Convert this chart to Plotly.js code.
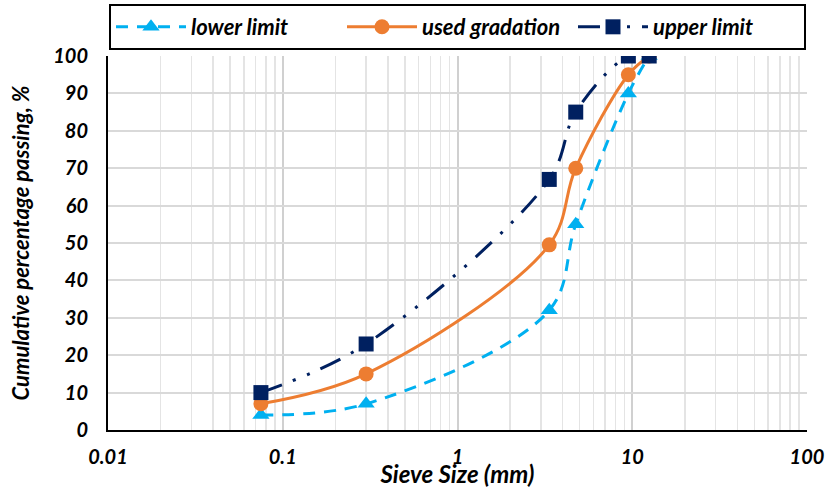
<!DOCTYPE html>
<html>
<head>
<meta charset="utf-8">
<script src="https://cdn.plot.ly/plotly-3.0.1.min.js"></script>
<style>html,body{margin:0;padding:0;background:#fff;}#chart{width:825px;height:488px;}</style>
</head>
<body>
<div id="chart"></div>
<script>
const sieveSizes = [0.075, 0.3, 3.35, 4.75, 9.5, 12.5];
const lowerLimit = [4, 7, 32, 55, 90, 100];
const usedGradation = [7, 15, 49.5, 70, 95, 100];
const upperLimit = [10, 23, 67, 85, 100, 100];
const seriesNames = ['lower limit', 'used gradation', 'upper limit'];
const xTickVals = [0.01, 0.1, 1, 10, 100];
const xTickText = ['0.01', '0.1', '1', '10', '100'];

const FONT = 'Lato, "Open Sans", sans-serif';

const traces = [
  {
    x: sieveSizes, y: lowerLimit, name: seriesNames[0], type: 'scatter', mode: 'lines+markers',
    line: {color: '#00B0F0', width: 3, dash: '12px,9px', shape: 'spline', smoothing: 1},
    marker: {symbol: 'triangle-up', size: 15, color: '#00B0F0'}
  },
  {
    x: sieveSizes, y: usedGradation, name: seriesNames[1], type: 'scatter', mode: 'lines+markers',
    line: {color: '#ED7D31', width: 3, shape: 'spline', smoothing: 1},
    marker: {symbol: 'circle', size: 15, color: '#ED7D31'}
  },
  {
    x: sieveSizes, y: upperLimit, name: seriesNames[2], type: 'scatter', mode: 'lines+markers',
    line: {color: '#002060', width: 3, dash: '22px,12px,3px,12px,3px,12px', shape: 'spline', smoothing: 1},
    marker: {symbol: 'square', size: 15, color: '#002060'}
  }
];

const tickFont = {family: FONT, size: 20, color: '#000', weight: 'bold', style: 'italic'};

const layout = {
  width: 825, height: 488,
  margin: {l: 108, r: 18, t: 56, b: 58, autoexpand: false},
  paper_bgcolor: '#fff', plot_bgcolor: '#fff',
  showlegend: true,
  legend: {
    orientation: 'h', x: 0.5, xanchor: 'center', y: 1.016, yanchor: 'bottom',
    bordercolor: '#000', borderwidth: 2,
    font: {family: FONT, size: 22, color: '#000', weight: 'bold', style: 'italic'},
    itemwidth: 70, tracegroupgap: 0,
    entrywidth: 146, entrywidthmode: 'pixels'
  },
  xaxis: {
    type: 'log', range: [-2, 2],
    tickvals: xTickVals, ticktext: xTickText,
    tickfont: tickFont, ticks: '', ticklabelstandoff: 8,
    showline: true, linecolor: '#000', linewidth: 2,
    showgrid: true, gridcolor: '#d0d0d0', gridwidth: 2,
    minor: {showgrid: true, gridcolor: '#e4e4e4', gridwidth: 1.5, dtick: 'D1'},
    zeroline: false, automargin: false,
    title: {text: 'Sieve Size (mm)', font: {family: FONT, size: 24, color: '#000', weight: 'bold', style: 'italic'}, standoff: 0}
  },
  yaxis: {
    range: [0, 100], dtick: 10,
    tickfont: tickFont, ticks: '', ticklabelstandoff: 14,
    showline: true, linecolor: '#000', linewidth: 2,
    showgrid: true, gridcolor: '#d9d9d9', gridwidth: 2,
    zeroline: false, automargin: false,
    title: {text: 'Cumulative percentage passing, %', font: {family: FONT, size: 22, color: '#000', weight: 'bold', style: 'italic'}, standoff: 17}
  }
};

Plotly.newPlot('chart', traces, layout, {displayModeBar: false, staticPlot: true});
</script>
</body>
</html>
